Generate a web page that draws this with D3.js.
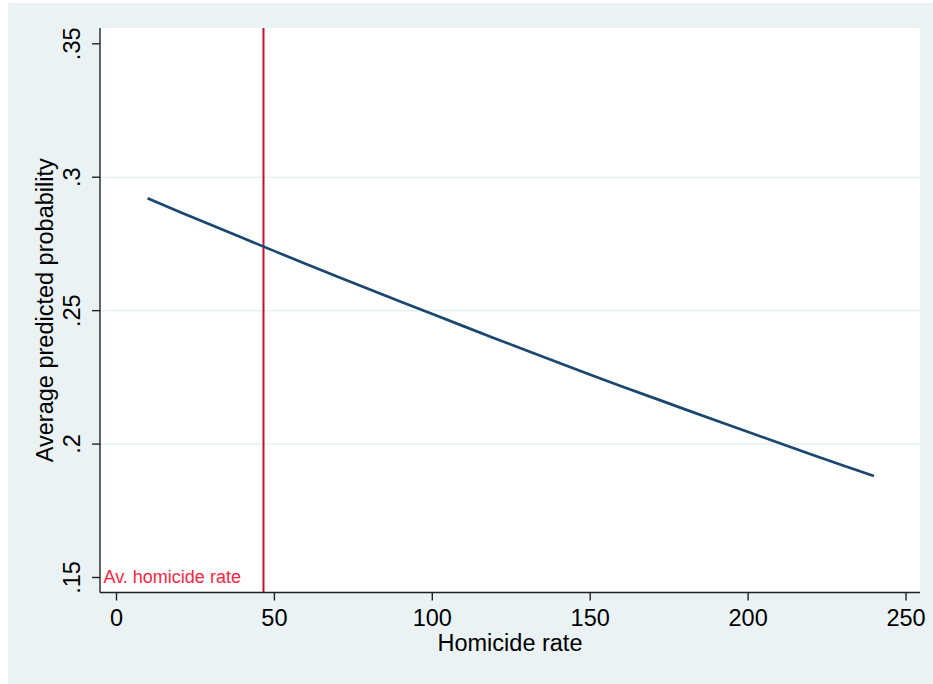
<!DOCTYPE html>
<html>
<head>
<meta charset="utf-8">
<script src="https://cdn.jsdelivr.net/npm/d3@7.9.0/dist/d3.min.js"></script>
<style>
  html, body { margin: 0; padding: 0; background: #fff; }
  svg { display: block; font-family: "Liberation Sans", Arial, sans-serif; }
</style>
</head>
<body>
<div id="chart"></div>
<script>
// Data
const homicideRate = [10, 20, 30, 40, 50, 60, 70, 80, 90, 100, 110, 120,
  130, 140, 150, 160, 170, 180, 190, 200, 210, 220, 230, 240];
const avgProb = [0.2921, 0.2871, 0.2822, 0.2773, 0.2724, 0.2676, 0.2628, 0.2581,
  0.2534, 0.2488, 0.2442, 0.2396, 0.2351, 0.2306, 0.2261, 0.2217, 0.2174,
  0.2131, 0.2088, 0.2046, 0.2004, 0.1962, 0.1921, 0.1880];
const avgHomicide = 46.7;
const xTicks = [0, 50, 100, 150, 200, 250];
const yTicks = [0.15, 0.2, 0.25, 0.3, 0.35];
const yTickLabels = ['.15', '.2', '.25', '.3', '.35'];
const gridValues = [0.2, 0.25, 0.3];

const width = 933;
const height = 684;
const plot = { left: 100, right: 920, top: 28, bottom: 592.5 };

const svg = d3.select('#chart')
  .append('svg')
  .attr('width', width)
  .attr('height', height);

// outer graph region
svg.append('rect')
  .attr('x', 8).attr('y', 3)
  .attr('width', width - 8).attr('height', height - 3)
  .attr('fill', '#eaf2f3');

svg.append('rect')
  .attr('x', plot.left).attr('y', plot.top)
  .attr('width', plot.right - plot.left).attr('height', plot.bottom - plot.top)
  .attr('fill', '#fff');

const xScale = d3.scaleLinear().domain([0, 250]).range([116, 905.5]);
const yScale = d3.scaleLinear().domain([0.15, 0.35]).range([577.5, 43.8]);

// gridlines
svg.append('g')
  .selectAll('line')
  .data(gridValues)
  .join('line')
  .attr('x1', plot.left).attr('x2', plot.right)
  .attr('y1', d => yScale(d)).attr('y2', d => yScale(d))
  .attr('stroke', '#e6eff1')
  .attr('stroke-width', 1.5);

// average homicide rate line
svg.append('line')
  .attr('x1', xScale(avgHomicide)).attr('x2', xScale(avgHomicide))
  .attr('y1', plot.top).attr('y2', plot.bottom)
  .attr('stroke', '#c8102e')
  .attr('stroke-width', 2);

svg.append('text')
  .attr('x', 103.5).attr('y', 583)
  .attr('fill', '#ff1f3d')
  .style('font-size', '18px')
  .text('Av. homicide rate');

// prediction line
const line = d3.line()
  .x((d, i) => xScale(homicideRate[i]))
  .y(d => yScale(d));

svg.append('path')
  .datum(avgProb)
  .attr('d', line)
  .attr('fill', 'none')
  .attr('stroke', '#1a476f')
  .attr('stroke-width', 2.7)
  .attr('stroke-linejoin', 'round');

// axes
const xAxis = d3.axisBottom(xScale).tickValues(xTicks).tickSize(8).tickPadding(9);
const gx = svg.append('g')
  .attr('transform', `translate(0, ${plot.bottom})`)
  .call(xAxis);
gx.select('.domain').attr('d', `M${plot.left},0H${plot.right}`);
gx.selectAll('text').style('font-size', '23.5px').attr('fill', '#000');

const yAxis = d3.axisLeft(yScale).tickValues(yTicks)
  .tickFormat((d, i) => yTickLabels[i]).tickSize(8);
const gy = svg.append('g')
  .attr('transform', `translate(${plot.left}, 0)`)
  .call(yAxis);
gy.select('.domain').attr('d', `M0,${plot.top}V${plot.bottom}`);
gy.selectAll('text')
  .attr('x', null).attr('dy', null)
  .attr('text-anchor', 'middle')
  .attr('transform', d => `translate(-20, ${yScale(d)}) rotate(-90)`)
  .attr('y', 0)
  .style('font-size', '23.5px')
  .attr('fill', '#000');
gy.selectAll('.tick').attr('transform', null);
gy.selectAll('.tick line').attr('y1', d => yScale(d)).attr('y2', d => yScale(d));

svg.selectAll('.domain, .tick line').attr('stroke', '#222').attr('stroke-width', 1.4);

// axis titles
svg.append('text')
  .attr('x', (plot.left + plot.right) / 2).attr('y', 651)
  .attr('text-anchor', 'middle')
  .style('font-size', '23.5px')
  .text('Homicide rate');

svg.append('text')
  .attr('transform', `translate(52.5, ${(plot.top + plot.bottom) / 2}) rotate(-90)`)
  .attr('text-anchor', 'middle')
  .style('font-size', '23.5px')
  .text('Average predicted probability');
</script>
</body>
</html>
